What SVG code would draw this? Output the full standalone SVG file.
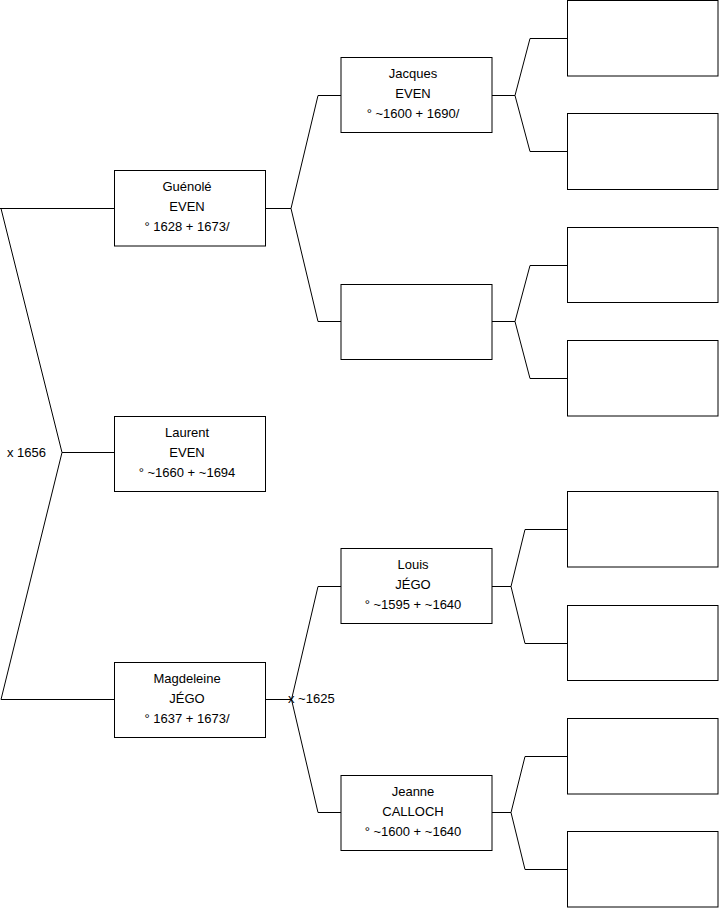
<svg xmlns="http://www.w3.org/2000/svg" width="719" height="908" viewBox="0 0 719 908">
<style>
.box{fill:#fff;stroke:#000;stroke-width:1}
.ln{fill:none;stroke:#000;stroke-width:1}
text{font-family:"Liberation Sans",Arial,sans-serif;font-size:13px;fill:#000}
.c{text-anchor:middle}
</style>
<rect width="719" height="908" fill="#fff"/>
<g id="connectors">
<polyline class="ln" points="0,208.5 114,208.5"/>
<polyline class="ln" points="1,208.5 62,452.5 1,699.5 114,699.5"/>
<polyline class="ln" points="62,452.5 114,452.5"/>
<polyline class="ln" points="265,208.5 291,208.5"/>
<polyline class="ln" points="341,95.5 318,95.5 291,208.5 318,321.5 341,321.5"/>
<polyline class="ln" points="492,95.5 515,95.5"/>
<polyline class="ln" points="567,38.5 530,38.5 515,95.5 530,151.5 567,151.5"/>
<polyline class="ln" points="492,321.5 515,321.5"/>
<polyline class="ln" points="567,265.5 530,265.5 515,321.5 530,378.5 567,378.5"/>
<polyline class="ln" points="265,699.5 291.5,699.5"/>
<polyline class="ln" points="341,586.5 318,586.5 291.5,699.5 318,812.5 341,812.5"/>
<polyline class="ln" points="492,586.5 511,586.5"/>
<polyline class="ln" points="567,529.5 525,529.5 511,586.5 525,643.5 567,643.5"/>
<polyline class="ln" points="492,812.5 511,812.5"/>
<polyline class="ln" points="567,756.5 525,756.5 511,812.5 525,869.5 567,869.5"/>
<text x="7" y="457">x 1656</text>
<text x="288" y="703">x ~1625</text>
</g>
<g id="guenole">
<rect class="box" x="114.5" y="170.5" width="151" height="75.5"/>
<text class="c" x="187" y="191">Guénolé</text>
<text class="c" x="187" y="211">EVEN</text>
<text class="c" x="187" y="231">° 1628 + 1673/</text>
</g>
<g id="laurent">
<rect class="box" x="114.5" y="416.5" width="151" height="75"/>
<text class="c" x="187" y="437">Laurent</text>
<text class="c" x="187" y="457">EVEN</text>
<text class="c" x="187" y="477">° ~1660 + ~1694</text>
</g>
<g id="magdeleine">
<rect class="box" x="114.5" y="662.5" width="151" height="75"/>
<text class="c" x="187" y="683">Magdeleine</text>
<text class="c" x="187" y="703">JÉGO</text>
<text class="c" x="187" y="723">° 1637 + 1673/</text>
</g>
<g id="jacques">
<rect class="box" x="341" y="57.5" width="151" height="75"/>
<text class="c" x="413" y="78">Jacques</text>
<text class="c" x="413" y="98">EVEN</text>
<text class="c" x="413" y="118">° ~1600 + 1690/</text>
</g>
<g id="unknown2">
<rect class="box" x="341" y="284.5" width="151" height="75"/>
</g>
<g id="louis">
<rect class="box" x="341" y="548.5" width="151" height="75"/>
<text class="c" x="413" y="569">Louis</text>
<text class="c" x="413" y="589">JÉGO</text>
<text class="c" x="413" y="609">° ~1595 + ~1640</text>
</g>
<g id="jeanne">
<rect class="box" x="341" y="775.5" width="151" height="75"/>
<text class="c" x="413" y="796">Jeanne</text>
<text class="c" x="413" y="816">CALLOCH</text>
<text class="c" x="413" y="836">° ~1600 + ~1640</text>
</g>
<g id="g3a"><rect class="box" x="567.5" y="0.5" width="150.5" height="75.5"/></g>
<g id="g3b"><rect class="box" x="567.5" y="113.5" width="150.5" height="76"/></g>
<g id="g3c"><rect class="box" x="567.5" y="227.5" width="150.5" height="75"/></g>
<g id="g3d"><rect class="box" x="567.5" y="340.5" width="150.5" height="75.5"/></g>
<g id="g3e"><rect class="box" x="567.5" y="491.5" width="150.5" height="75.5"/></g>
<g id="g3f"><rect class="box" x="567.5" y="605.5" width="150.5" height="75"/></g>
<g id="g3g"><rect class="box" x="567.5" y="718.5" width="150.5" height="75.5"/></g>
<g id="g3h"><rect class="box" x="567.5" y="831.5" width="150.5" height="75.5"/></g>
</svg>
